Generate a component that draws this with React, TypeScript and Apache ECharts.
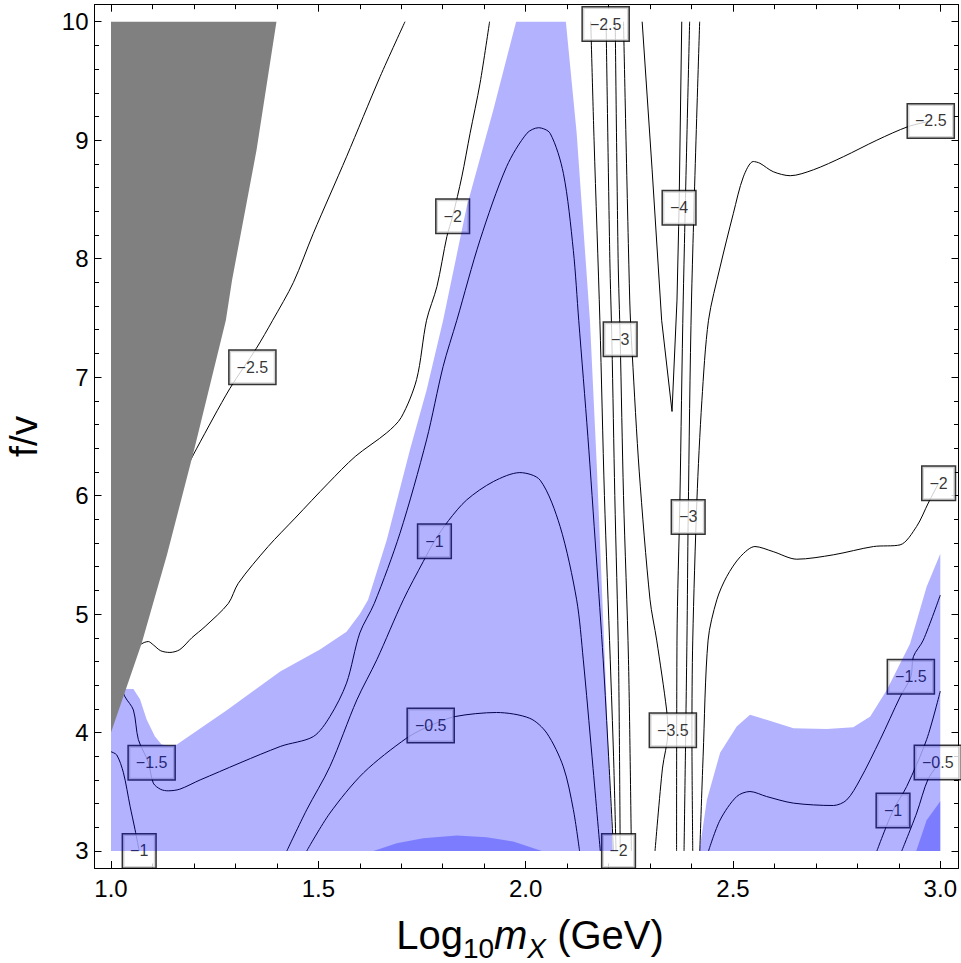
import React, { useEffect, useRef } from "react";
import * as echarts from "echarts";

const FONT = "Liberation Sans, Arial, Helvetica, sans-serif";

// axis extents and ticks
const X_MIN = 0.9602;
const X_MAX = 3.0439;
const Y_MIN = 2.8565;
const Y_MAX = 10.1435;
const xMajorTicks = [1.0, 1.5, 2.0, 2.5, 3.0];
const xMinorTicks = [1.1, 1.2, 1.3, 1.4, 1.6, 1.7, 1.8, 1.9, 2.1, 2.2, 2.3, 2.4, 2.6, 2.7, 2.8, 2.9];
const yMajorTicks = [3, 4, 5, 6, 7, 8, 9, 10];
const yMinorTicks = [3.2, 3.4, 3.6, 3.8, 4.2, 4.4, 4.6, 4.8, 5.2, 5.4, 5.6, 5.8, 6.2, 6.4, 6.6, 6.8, 7.2, 7.4, 7.6, 7.8, 8.2, 8.4, 8.6, 8.8, 9.2, 9.4, 9.6, 9.8];

// x-axis title pieces: text, font size, italic, subscript
const xTitleParts: [string, number, boolean, boolean][] = [
  ["Log", 40, false, false],
  ["10", 28, false, true],
  ["m", 40, true, false],
  ["X", 28, true, true],
  [" (GeV)", 40, false, false],
];

// excluded (gray) region
const grayRegion = [[1.0, 10], [1.399, 10], [1.351, 8.917], [1.292, 7.82], [1.277, 7.48], [1.2026, 6.416], [1.135, 5.5], [1.074, 4.754], [1.0, 4.0]];

// shaded regions
const blueMain = [[1.0, 3.0], [1.0, 4.37], [1.054, 4.367], [1.07, 4.28], [1.086, 4.11], [1.106, 3.966], [1.122, 3.9], [1.138, 3.888], [1.158, 3.896], [1.28, 4.19], [1.408, 4.515], [1.504, 4.7], [1.568, 4.85], [1.6, 5.0], [1.62, 5.12], [1.665, 5.626], [1.721, 6.386], [1.761, 6.89], [1.801, 7.48], [1.858, 8.44], [1.922, 9.255], [1.977, 10], [2.097, 10], [2.123, 9.06], [2.155, 7.48], [2.172, 6.22], [2.185, 5.12], [2.191, 4.614], [2.2, 3.8], [2.21, 3.0]];
const blueRight = [[2.419, 3.0], [2.437, 3.43], [2.469, 3.83], [2.509, 4.05], [2.541, 4.15], [2.581, 4.107], [2.646, 4.037], [2.726, 4.03], [2.79, 4.045], [2.831, 4.135], [2.871, 4.36], [2.927, 4.75], [2.967, 5.23], [3.0, 5.51], [3.0, 3.0]];
const blueOverlapMid = [[1.633, 3.0], [1.689, 3.065], [1.753, 3.107], [1.834, 3.13], [1.906, 3.116], [1.97, 3.08], [2.039, 3.0]];
const blueOverlapRight = [[2.942, 3.0], [2.967, 3.26], [3.0, 3.42], [3.0, 3.0]];

// contour lines
const cM25Left = [[1.709, 10], [1.649, 9.536], [1.568, 8.86], [1.488, 8.214], [1.44, 7.8], [1.39, 7.48], [1.35, 7.24], [1.287, 6.906], [1.207, 6.4], [1.17, 6.15]];
const cM2Left = [[1.913, 10], [1.89, 9.48], [1.866, 9.058], [1.846, 8.69], [1.824, 8.358], [1.81, 8.186], [1.786, 7.764], [1.761, 7.48], [1.737, 6.98], [1.7, 6.66], [1.665, 6.53], [1.589, 6.33], [1.524, 6.105], [1.444, 5.81], [1.379, 5.57], [1.307, 5.26], [1.283, 5.09], [1.227, 4.895], [1.195, 4.8], [1.166, 4.7], [1.142, 4.676], [1.12, 4.69], [1.102, 4.74], [1.09, 4.768], [1.08, 4.76], [1.06, 4.72]];
const cM15Main = [[1.025, 4.38], [1.034, 4.3], [1.054, 4.19], [1.066, 3.94], [1.09, 3.75], [1.102, 3.573], [1.12, 3.52], [1.138, 3.508], [1.166, 3.522], [1.215, 3.6], [1.408, 3.882], [1.488, 3.966], [1.528, 4.135], [1.568, 4.417], [1.6, 4.84], [1.635, 5.09], [1.697, 5.683], [1.761, 6.47], [1.801, 7.09], [1.834, 7.48], [1.89, 8.158], [1.954, 8.776], [2.003, 9.058], [2.031, 9.105], [2.059, 9.058], [2.091, 8.72], [2.115, 8.07], [2.128, 7.48], [2.15, 6.5], [2.17, 5.5], [2.187, 4.614], [2.2, 3.8], [2.212, 3.0]];
const cM1Left = [[1.0, 3.838], [1.014, 3.81], [1.03, 3.66], [1.046, 3.378], [1.058, 3.18], [1.068, 3.0]];
const cM1Arch = [[1.424, 3.0], [1.472, 3.348], [1.528, 3.713], [1.593, 4.276], [1.641, 4.614], [1.705, 5.12], [1.753, 5.443], [1.78, 5.615], [1.814, 5.789], [1.858, 5.964], [1.922, 6.118], [1.986, 6.194], [2.035, 6.13], [2.083, 5.74], [2.123, 5.12], [2.139, 4.614], [2.16, 3.8], [2.18, 3.0]];
const cM05Arch = [[1.472, 3.0], [1.528, 3.32], [1.609, 3.66], [1.713, 3.953], [1.771, 4.06], [1.83, 4.135], [1.93, 4.169], [2.01, 4.12], [2.051, 3.995], [2.091, 3.71], [2.115, 3.35], [2.13, 3.0]];
const cM2Wall = [[2.157, 10], [2.165, 9.0], [2.179, 7.48], [2.19, 6.0], [2.204, 4.614], [2.212, 3.8], [2.218, 3.0]];
const cM25Wall = [[2.194, 10], [2.203, 8.0], [2.208, 7.3], [2.215, 6.0], [2.224, 4.614], [2.228, 3.0]];
const cM3Wall = [[2.216, 10], [2.223, 8.0], [2.228, 7.32], [2.236, 6.0], [2.248, 4.614], [2.255, 3.0]];
const cM35Wall = [[2.236, 10], [2.251, 7.65], [2.257, 7.2], [2.274, 6.2], [2.3, 5.12], [2.316, 4.78], [2.34, 4.19], [2.343, 4.0], [2.33, 3.7], [2.312, 3.0]];
const cM4V = [[2.281, 10], [2.305, 8.75], [2.328, 7.48], [2.353, 6.71], [2.365, 7.65], [2.369, 8.27], [2.37, 8.43], [2.3765, 10]];
const cM35Right = [[2.3955, 10], [2.38, 7.65], [2.372, 5.96], [2.365, 4.78], [2.364, 3.0]];
const cM3Right = [[2.4197, 10], [2.4, 7.65], [2.392, 5.82], [2.389, 4.78], [2.382, 3.0]];
const cM25Right = [[2.403, 3.0], [2.401, 4.0], [2.403, 4.78], [2.413, 5.96], [2.425, 6.8], [2.441, 7.48], [2.469, 7.93], [2.501, 8.383], [2.525, 8.69], [2.549, 8.82], [2.565, 8.805], [2.597, 8.734], [2.638, 8.7], [2.694, 8.75], [2.766, 8.86], [2.847, 9.0], [2.922, 9.114], [2.977, 9.162]];
const cM2Right = [[2.42, 3.0], [2.428, 3.8], [2.44, 4.78], [2.461, 5.12], [2.485, 5.317], [2.518, 5.485], [2.553, 5.57], [2.597, 5.527], [2.654, 5.463], [2.742, 5.5], [2.839, 5.57], [2.903, 5.584], [2.943, 5.74], [2.971, 5.937], [2.996, 6.105]];
const cM15Right = [[2.441, 3.0], [2.469, 3.262], [2.509, 3.46], [2.541, 3.502], [2.581, 3.46], [2.646, 3.404], [2.742, 3.384], [2.774, 3.43], [2.806, 3.6], [2.855, 3.94], [2.903, 4.3], [2.929, 4.47], [2.935, 4.64], [2.959, 4.78], [3.0, 5.16]];
const cM1Right = [[2.847, 3.0], [2.886, 3.342], [2.919, 3.545], [2.967, 3.94], [3.0, 4.35]];
const cM05Right = [[2.907, 3.0], [2.943, 3.32], [2.971, 3.61], [3.0, 3.75]];

const contourLines = [
  { data: cM25Left, smooth: 0.3 },
  { data: cM2Left, smooth: 0.3 },
  { data: cM15Main, smooth: 0.3 },
  { data: cM1Left, smooth: 0.3 },
  { data: cM1Arch, smooth: 0.3 },
  { data: cM05Arch, smooth: 0.3 },
  { data: cM2Wall, smooth: 0.3 },
  { data: cM25Wall, smooth: 0.3 },
  { data: cM3Wall, smooth: 0.3 },
  { data: cM35Wall, smooth: 0.3 },
  { data: cM4V, smooth: 0 },
  { data: cM35Right, smooth: 0.3 },
  { data: cM3Right, smooth: 0.3 },
  { data: cM25Right, smooth: 0.3 },
  { data: cM2Right, smooth: 0.3 },
  { data: cM15Right, smooth: 0.3 },
  { data: cM1Right, smooth: 0.3 },
  { data: cM05Right, smooth: 0.3 },
];

// contour labels
const labelTexts = ["−2.5", "−2", "−1.5", "−1", "−1", "−0.5", "−2.5", "−3", "−4", "−3", "−3.5", "−2", "−2.5", "−2", "−1.5", "−1", "−0.5"];
const labelX = [1.341, 1.824, 1.098, 1.068, 1.78, 1.771, 2.193, 2.228, 2.37, 2.392, 2.355, 2.224, 2.977, 2.996, 2.929, 2.886, 2.994];
const labelY = [7.083, 8.358, 3.744, 3.0, 5.615, 4.06, 9.98, 7.32, 8.43, 5.82, 4.02, 3.0, 9.162, 6.105, 4.47, 3.342, 3.747];

function polygonSeries(points: number[][], fill: string, z: number) {
  return {
    type: "custom",
    coordinateSystem: "cartesian2d",
    xAxisIndex: 0,
    yAxisIndex: 0,
    z,
    silent: true,
    clip: false,
    data: [points[0]],
    renderItem: (_params: any, api: any) => ({
      type: "polygon",
      shape: { points: points.map((p) => api.coord(p)) },
      style: { fill, stroke: "none" },
    }),
  };
}

function xAxisDef(position: string, ticks: number[], len: number, main: boolean, labels: boolean) {
  return {
    type: "value",
    position,
    min: X_MIN,
    max: X_MAX,
    axisLine: { show: main, onZero: false, lineStyle: { color: "#000", width: 1 } },
    axisTick: { show: true, inside: true, length: len, customValues: ticks, lineStyle: { color: "#000", width: 1 } },
    axisLabel: labels
      ? { show: true, customValues: ticks, formatter: (v: number) => v.toFixed(1), fontSize: 24, color: "#000", fontFamily: FONT, margin: 8 }
      : { show: false },
    splitLine: { show: false },
  };
}

function yAxisDef(position: string, ticks: number[], len: number, main: boolean, labels: boolean) {
  return {
    type: "value",
    position,
    min: Y_MIN,
    max: Y_MAX,
    axisLine: { show: main, onZero: false, lineStyle: { color: "#000", width: 1 } },
    axisTick: { show: true, inside: true, length: len, customValues: ticks, lineStyle: { color: "#000", width: 1 } },
    axisLabel: labels
      ? { show: true, customValues: ticks, formatter: (v: number) => String(Math.round(v)), fontSize: 24, color: "#000", fontFamily: FONT, margin: 6 }
      : { show: false },
    splitLine: { show: false },
    ...(labels
      ? {
          name: "f/v",
          nameLocation: "middle",
          nameGap: 52,
          nameTextStyle: { fontSize: 39, fontFamily: FONT, color: "#000" },
        }
      : {}),
  };
}

function buildXTitle(centerX: number, baseline: number, subDrop: number) {
  const canvas = document.createElement("canvas");
  const ctx = canvas.getContext("2d");
  const widths = xTitleParts.map(([t, s, it]) => {
    if (!ctx) return t.length * s * 0.55;
    ctx.font = `${it ? "italic " : ""}${s}px "Liberation Sans", Arial, sans-serif`;
    return ctx.measureText(t).width;
  });
  const total = widths.reduce((a, b) => a + b, 0);
  let x = centerX - total / 2;
  return xTitleParts.map(([t, s, it, sub], i) => {
    const el = {
      type: "text",
      x,
      y: (sub ? baseline + subDrop : baseline) - 0.35 * s,
      silent: true,
      style: {
        text: t,
        fontSize: s,
        fontFamily: FONT,
        fontStyle: it ? "italic" : "normal",
        fill: "#000",
        align: "left",
        verticalAlign: "middle",
      },
    };
    x += widths[i];
    return el;
  });
}

export default function App() {
  const ref = useRef<HTMLDivElement>(null);
  useEffect(() => {
    if (!ref.current) return;
    const chart = echarts.init(ref.current, null, { renderer: "svg" });
    const lineSeries = contourLines.map((c) => ({
      type: "line",
      xAxisIndex: 0,
      yAxisIndex: 0,
      data: c.data,
      smooth: c.smooth,
      showSymbol: false,
      symbol: "none",
      silent: true,
      z: 2,
      lineStyle: { color: "#000", width: 1 },
    }));
    const labelSeries = {
      type: "scatter",
      xAxisIndex: 0,
      yAxisIndex: 0,
      z: 3,
      silent: true,
      symbolSize: 1,
      itemStyle: { color: "rgba(0,0,0,0)" },
      data: labelTexts.map((t, i) => ({ name: t, value: [labelX[i], labelY[i]] })),
      label: {
        show: true,
        position: "inside",
        formatter: "{b}",
        fontSize: 16,
        lineHeight: 16,
        fontFamily: FONT,
        color: "#000",
        backgroundColor: "#fff",
        borderColor: "#000",
        borderWidth: 1.5,
        padding: [8.5, 7, 8.5, 7],
      },
      labelLayout: { hideOverlap: false },
    };
    chart.setOption({
      animation: false,
      backgroundColor: "#fff",
      grid: { left: 94.5, right: 2.5, top: 4.7, bottom: 95, containLabel: false, outerBoundsMode: "none" },
      xAxis: [
        xAxisDef("bottom", xMajorTicks, 7, true, true),
        xAxisDef("bottom", xMinorTicks, 4.5, false, false),
        xAxisDef("top", xMajorTicks, 7, true, false),
        xAxisDef("top", xMinorTicks, 4.5, false, false),
      ],
      yAxis: [
        yAxisDef("left", yMajorTicks, 7, true, true),
        yAxisDef("left", yMinorTicks, 4.5, false, false),
        yAxisDef("right", yMajorTicks, 7, true, false),
        yAxisDef("right", yMinorTicks, 4.5, false, false),
      ],
      graphic: buildXTitle(530, 949, 9),
      series: [
        ...lineSeries,
        labelSeries,
        polygonSeries(blueMain, "rgba(0,0,255,0.3)", 4),
        polygonSeries(blueRight, "rgba(0,0,255,0.3)", 4),
        polygonSeries(blueOverlapMid, "rgba(0,0,255,0.3)", 5),
        polygonSeries(blueOverlapRight, "rgba(0,0,255,0.3)", 5),
        polygonSeries(grayRegion, "#808080", 6),
      ],
    });
    return () => chart.dispose();
  }, []);
  return <div ref={ref} style={{ position: "absolute", left: 0, top: 0, width: 961, height: 963 }} />;
}
